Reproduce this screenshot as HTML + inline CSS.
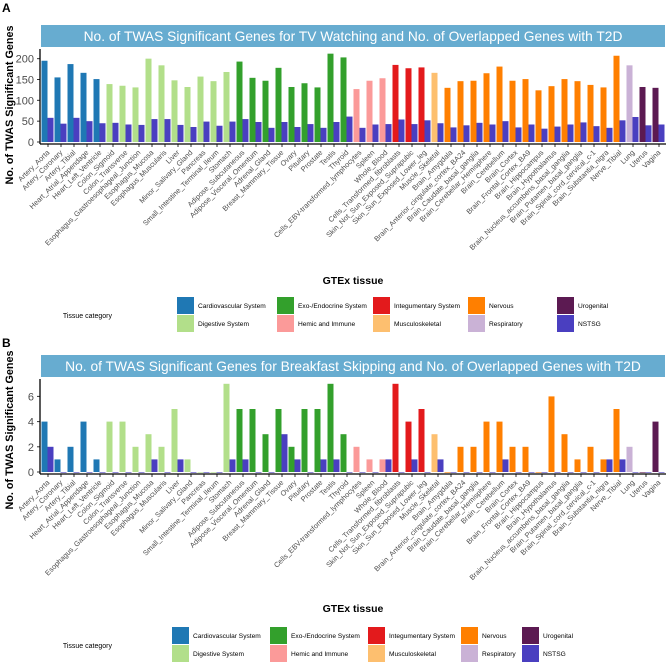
<!DOCTYPE html>
<html><head><meta charset="utf-8">
<style>
body{margin:0;background:#fff;}
svg{display:block;font-family:"Liberation Sans",sans-serif;}
</style></head>
<body>
<svg id="chart" width="668" height="665" viewBox="0 0 668 665"></svg>
<script>
const tissues=["Artery_Aorta","Artery_Coronary","Artery_Tibial","Heart_Atrial_Appendage","Heart_Left_Ventricle","Colon_Sigmoid","Colon_Transverse","Esophagus_Gastroesophageal_Junction","Esophagus_Mucosa","Esophagus_Muscularis","Liver","Minor_Salivary_Gland","Pancreas","Small_Intestine_Terminal_Ileum","Stomach","Adipose_Subcutaneous","Adipose_Visceral_Omentum","Adrenal_Gland","Breast_Mammary_Tissue","Ovary","Pituitary","Prostate","Testis","Thyroid","Cells_EBV-transformed_lymphocytes","Spleen","Whole_Blood","Cells_Transformed_fibroblasts","Skin_Not_Sun_Exposed_Suprapubic","Skin_Sun_Exposed_Lower_leg","Muscle_Skeletal","Brain_Amygdala","Brain_Anterior_cingulate_cortex_BA24","Brain_Caudate_basal_ganglia","Brain_Cerebellar_Hemisphere","Brain_Cerebellum","Brain_Cortex","Brain_Frontal_Cortex_BA9","Brain_Hippocampus","Brain_Hypothalamus","Brain_Nucleus_accumbens_basal_ganglia","Brain_Putamen_basal_ganglia","Brain_Spinal_cord_cervical_c-1","Brain_Substantia_nigra","Nerve_Tibial","Lung","Uterus","Vagina"];
const tissueCategory=["cv","cv","cv","cv","cv","dg","dg","dg","dg","dg","dg","dg","dg","dg","dg","en","en","en","en","en","en","en","en","en","hm","hm","hm","ig","ig","ig","ms","nv","nv","nv","nv","nv","nv","nv","nv","nv","nv","nv","nv","nv","nv","rs","ug","ug"];
const tvSig=[195,155,187,166,151,139,135,131,200,184,148,132,157,146,168,193,154,147,178,132,141,131,212,203,127,147,153,185,177,179,166,130,146,147,165,181,147,151,124,134,151,146,137,131,207,184,132,130];
const tvOverlap=[58,44,58,50,45,46,42,41,55,55,41,36,49,39,49,55,48,34,48,36,43,34,48,61,34,42,43,54,43,52,45,35,40,46,42,50,35,42,32,37,42,47,38,34,52,60,40,42];
const bsSig=[4,1,2,4,1,4,4,2,3,2,5,1,0,0,7,5,5,3,5,2,5,5,7,3,2,1,1,7,4,5,3,0,2,2,4,4,2,2,0,6,3,1,2,1,5,2,0,4];
const bsOverlap=[2,0,0,0,0,0,0,0,1,0,1,0,0,0,1,1,0,0,3,1,0,1,1,0,0,0,1,0,1,0,1,0,0,0,0,1,0,0,0,0,0,0,0,1,1,0,0,0];
const ticksA=[0,50,100,150,200];
const ticksB=[0,2,4,6];
const catColors={cv:"#1f78b4",dg:"#b2df8a",en:"#33a02c",hm:"#fb9a99",ig:"#e31a1c",ms:"#fdbf6f",nv:"#ff7f00",rs:"#cab2d6",ug:"#5c1a52",ns:"#4a3fc0"};
const legendItems=[["cv","Cardiovascular System"],["dg","Digestive System"],["en","Exo-/Endocrine System"],["hm","Hemic and Immune"],["ig","Integumentary System"],["ms","Musculoskeletal"],["nv","Nervous"],["rs","Respiratory"],["ug","Urogenital"],["ns","NSTSG"]];

const svg=document.getElementById('chart');
const NS="http://www.w3.org/2000/svg";
function mk(tag,attrs,parent,text){const e=document.createElementNS(NS,tag);for(const k in attrs)e.setAttribute(k,attrs[k]);if(text!==undefined)e.textContent=text;(parent||svg).appendChild(e);return e;}
function xCenter(i){return 48+i*13.0;}

function panel(cfg){
  const g=mk('g',{});
  
  
  const lab=mk('text',{x:2,y:cfg.labelY,'font-size':12,'font-weight':'bold',fill:'#000'},g,cfg.letter);
  
  
  const strip=mk('rect',{x:41,y:cfg.stripY,width:624,height:22,fill:'#67acd0'},g);
  
  
  const t=mk('text',{x:353,y:cfg.stripY+16,'font-size':13.8,fill:'#fff','text-anchor':'middle'},g,cfg.title);
  
  
  const y=v=>cfg.zeroY-v*cfg.scale;
  cfg.ticks.forEach(v=>{
    const tl=mk('text',{x:34,y:y(v)+4,'font-size':11,fill:'#4d4d4d','text-anchor':'end'},g,String(v));
    
    
    const tk=mk('line',{x1:37,x2:40,y1:y(v),y2:y(v),stroke:'#333','stroke-width':1},g);
    
    
  });
  tissues.forEach((name,i)=>{
    const c=xCenter(i);
    const v1=cfg.sig[i],v2=cfg.ov[i];
    const b1=mk('rect',{x:c-6.5,y:y(v1),width:6,height:Math.max(v1*cfg.scale,0.6),fill:catColors[tissueCategory[i]]},g);
    
    
    const b2=mk('rect',{x:c-0.5,y:y(v2),width:6,height:Math.max(v2*cfg.scale,0.6),fill:catColors.ns},g);
    
    
    const tk=mk('line',{x1:c,x2:c,y1:cfg.zeroY+2,y2:cfg.zeroY+5,stroke:'#333'},g);
    
    
    const tx=mk('text',{x:c+2,y:cfg.zeroY+11,'font-size':7.3,fill:'#4d4d4d','text-anchor':'end',transform:'rotate(-45 '+(c+2)+' '+(cfg.zeroY+11)+')'},g,name);
    
    
  });
  const ax=mk('line',{x1:40,x2:40,y1:cfg.stripY+24,y2:cfg.zeroY+2,stroke:'#000','stroke-width':1.3},g);
  
  
  const axx=mk('line',{x1:40,x2:666,y1:cfg.zeroY+2,y2:cfg.zeroY+2,stroke:'#000','stroke-width':1.3},g);
  
  
  const yt=mk('text',{x:13,y:cfg.yTitleY,'font-size':10.8,'font-weight':'bold',fill:'#000','text-anchor':'middle',transform:'rotate(-90 13 '+cfg.yTitleY+')'},g,'No. of TWAS Significant Genes');
  
  
  const xt=mk('text',{x:353,y:cfg.xTitleY,'font-size':10.5,'font-weight':'bold',fill:'#000','text-anchor':'middle'},g,'GTEx tissue');
  
  
  const lt=mk('text',{x:112,y:cfg.legY+21,'font-size':7,fill:'#000','text-anchor':'end'},g,'Tissue category');
  
  
  legendItems.forEach((it,k)=>{
    const col=Math.floor(k/2),row=k%2;
    const lx=cfg.legX[col],ly=cfg.legY+row*18;
    const sw=mk('rect',{x:lx,y:ly,width:17,height:17,fill:catColors[it[0]]},g);
    
    
    const lt2=mk('text',{x:lx+21,y:ly+11,'font-size':6.6,fill:'#000'},g,it[1]);
    
    
  });
}
panel({id:'tv',letter:'A',labelY:12,stripY:25,title:'No. of TWAS Significant Genes for TV Watching and No. of Overlapped Genes with T2D',zeroY:142,scale:0.4167,ticks:ticksA,sig:tvSig,ov:tvOverlap,yTitleY:105,xTitleY:284,legY:297,legX:[177,277,373,468,557]});
panel({id:'bs',letter:'B',labelY:347,stripY:355,title:'No. of TWAS Significant Genes for Breakfast Skipping and No. of Overlapped Genes with T2D',zeroY:472,scale:12.6,ticks:ticksB,sig:bsSig,ov:bsOverlap,yTitleY:430,xTitleY:612,legY:627,legX:[172,270,368,461,522]});
</script>
</body></html>
